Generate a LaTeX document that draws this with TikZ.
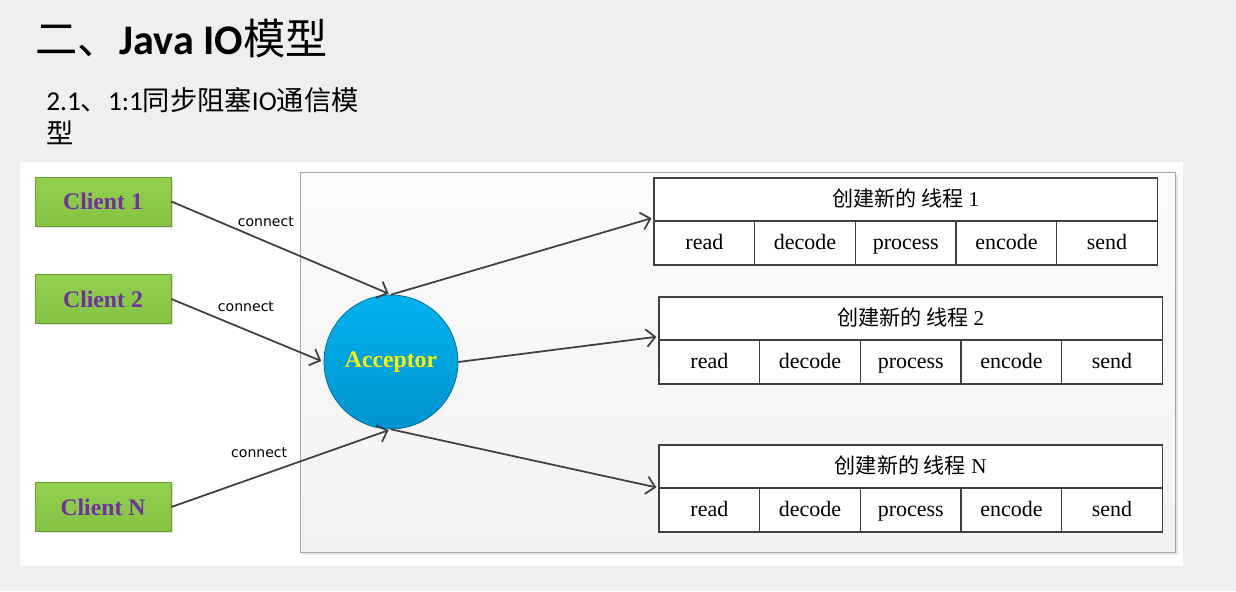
\documentclass[tikz,border=0pt]{standalone}
\usepackage{fontspec}
\setmainfont{Liberation Serif}
\newfontfamily\cjk{Noto Sans CJK SC}
\newfontfamily\calibri{Carlito}
\newfontfamily\labelfont{DejaVu Sans}
\usetikzlibrary{positioning,arrows.meta,shadows}

\definecolor{slidebg}{HTML}{EFEFEF}
\definecolor{clientgreen}{HTML}{92D050}
\definecolor{clientdark}{HTML}{84C341}
\definecolor{clientedge}{HTML}{6A9E37}
\definecolor{clienttext}{HTML}{7030A0}
\definecolor{acctop}{HTML}{00B2EE}
\definecolor{accbottom}{HTML}{0094CF}
\definecolor{linegray}{HTML}{404040}

\tikzset{
  client/.style={draw=clientedge, top color=clientgreen, bottom color=clientdark,
    minimum width=2.72cm, minimum height=0.98cm, text=clienttext,
    font=\fontsize{13.5}{16}\selectfont\bfseries,
    drop shadow={shadow xshift=1pt, shadow yshift=-1pt, opacity=0.25}},
  acceptor/.style={circle, draw=accbottom!70!black, top color=acctop, bottom color=accbottom,
    minimum size=2.68cm, text=yellow, font=\fontsize{13.5}{16}\selectfont\bfseries},
  head/.style={draw=linegray, line width=0.8pt, fill=white, inner sep=0pt, outer sep=0pt,
    minimum width=10.07cm, minimum height=0.86cm, text height=1.9ex, text depth=0.2ex,
    font=\fontsize{12}{14}\selectfont},
  cell/.style={draw=linegray, line width=0.8pt, fill=white, inner sep=0pt, outer sep=0pt,
    minimum width=2.014cm, minimum height=0.88cm, text height=1.9ex, text depth=0.2ex,
    font=\fontsize{12.5}{14}\selectfont},
  link/.style={->, draw=linegray, line width=1pt, shorten >=1.5pt},
  conn/.style={inner sep=1pt, font=\labelfont\fontsize{8}{10}\selectfont},
  >={Straight Barb[length=5pt,width=10pt]}
}

\begin{document}
\begin{tikzpicture}[x=0.02cm, y=-0.02cm]
  \useasboundingbox (0,0) rectangle (1236,591);

  % Slide background
  \fill[slidebg] (0,0) rectangle (1236,591);
  \fill[white] (20,162) rectangle (1183,566);

  % Titles
  \node[anchor=base west, inner sep=0pt] (title) at (35,55)
    {\fontsize{24}{28}\selectfont{\cjk 二、}{\calibri\bfseries Java IO}{\cjk 模型}};
  \node[anchor=base west, inner sep=0pt] (subtitle) at (46,111)
    {\fontsize{15.5}{18}\selectfont{\calibri 2.1}{\cjk 、}{\calibri 1:1}{\cjk 同步阻塞}{\calibri IO}{\cjk 通信模}};
  \node[anchor=base west, inner sep=0pt] (subtitle2) at (46,144)
    {\fontsize{15.5}{18}\selectfont\cjk 型};

  % Server box
  \draw[draw=gray!70, top color=white!97!gray, bottom color=gray!10,
    drop shadow={shadow xshift=1.5pt, shadow yshift=-1.5pt, opacity=0.2}]
    (300,172) rectangle (1175,552);

  % Clients
  \node[client] (c1) at (103,201.5) {Client 1};
  \node[client] (c2) at (103,299) {Client 2};
  \node[client] (cN) at (103,507) {Client N};

  % Acceptor
  \node[acceptor] (acc) at (391,362) {Acceptor};

  % Threads
  \node[head, anchor=north west] (t1) at (654,178) {{\cjk 创建新的 线程} 1};
  \node[head, anchor=north west] (t2) at (659,297) {{\cjk 创建新的 线程} 2};
  \node[head, anchor=north west] (tN) at (659,445) {{\cjk 创建新的 线程} N};
  \foreach \t in {t1,t2,tN}
    \foreach \w [count=\i] in {read,decode,process,encode,send}
      \node[cell, anchor=north west] (\t-\i) at ([xshift={(\i-1)*2.014cm}]\t.south west) {\w};

  % Connections
  \draw[link] (c1.east) -- node[conn, pos=0.43, above=7pt] (conn1) {connect} (acc.north);
  \draw[link] (c2.east) -- node[conn, pos=0.49, above=9pt] (conn2) {connect} (acc.west);
  \draw[link] (cN.east) -- node[conn, pos=0.4, above=9pt] (connN) {connect} (acc.south);

  % Dispatch
  \draw[link] (acc.north) -- ([yshift=2pt]t1.south west);
  \draw[link] (acc.east) -- ([yshift=2pt]t2.south west);
  \draw[link] (acc.south) -- (tN.south west);
\end{tikzpicture}
\end{document}
